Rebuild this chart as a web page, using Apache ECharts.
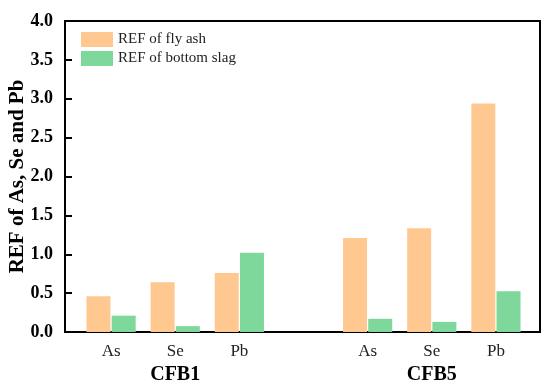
<!DOCTYPE html>
<html>
<head>
<meta charset="utf-8">
<script src="https://cdn.jsdelivr.net/npm/echarts@6/dist/echarts.min.js"></script>
<style>html,body{margin:0;padding:0;background:#fff}#c{width:550px;height:390px}</style>
</head>
<body>
<div id="c"></div>
<script>
const categories = ["As", "Se", "Pb", "", "As", "Se", "Pb"];
const flyAsh = [0.46, 0.64, 0.76, null, 1.21, 1.335, 2.94];
const bottomSlag = [0.21, 0.075, 1.02, null, 0.17, 0.13, 0.525];
const groupNames = ["CFB1", "CFB5"];
const groupLabelIndex = [1, 5];
const seriesNames = ["REF of fly ash", "REF of bottom slag"];
const yMin = 0, yMax = 4, yStep = 0.5;

const font = "Liberation Serif";
const chart = echarts.init(document.getElementById('c'));
chart.setOption({
  animation: false,
  textStyle: { fontFamily: font },
  grid: [
    { left: 65, right: 10, top: 21, bottom: 58, show: true, borderColor: '#000', borderWidth: 2,
      outerBoundsMode: 'none', containLabel: false },
    { left: 79, right: 22, top: 21, bottom: 58, show: false, outerBoundsMode: 'none', containLabel: false },
    // thin strip along the left axis: its split lines are the inward tick marks
    { left: 65, width: 7, top: 21, bottom: 58, show: false, outerBoundsMode: 'none', containLabel: false }
  ],
  legend: {
    orient: 'vertical', left: 76, top: 27, itemWidth: 32, itemHeight: 15, itemGap: 4,
    icon: 'rect',
    textStyle: { fontFamily: font, fontSize: 15, color: '#222' },
    data: seriesNames
  },
  xAxis: [
    { gridIndex: 0, type: 'value', min: 0, max: 1, show: false },
    {
      gridIndex: 1, type: 'category', data: categories,
      axisLine: { show: false }, axisTick: { show: false },
      axisLabel: {
        interval: 0, margin: 10, fontFamily: font, fontSize: 17, color: '#222', lineHeight: 20,
        formatter: function (v, i) {
          const g = groupLabelIndex.indexOf(i);
          return g >= 0 ? v + '\n{g|' + groupNames[g] + '}' : v;
        },
        rich: { g: { fontFamily: font, fontSize: 20, fontWeight: 'bold', color: '#000', lineHeight: 26 } }
      }
    },
    { gridIndex: 2, type: 'value', min: 0, max: 1, show: false }
  ],
  yAxis: [
    {
      gridIndex: 0, type: 'value', min: yMin, max: yMax, interval: yStep,
      name: 'REF of As, Se and Pb', nameLocation: 'middle', nameGap: 37, nameMoveOverlap: false,
      nameTextStyle: { fontFamily: font, fontSize: 21, fontWeight: 'bold', color: '#000' },
      axisLine: { show: true, lineStyle: { color: '#000', width: 2 } },
      axisTick: { show: false },
      splitLine: { show: false },
      axisLabel: { margin: 12, fontFamily: font, fontSize: 18, fontWeight: 'bold', color: '#000',
        formatter: v => v.toFixed(1) }
    },
    { gridIndex: 1, type: 'value', min: yMin, max: yMax, show: false },
    { gridIndex: 2, type: 'value', min: yMin, max: yMax, interval: yStep,
      axisLine: { show: false }, axisTick: { show: false }, axisLabel: { show: false },
      splitLine: { show: true, lineStyle: { color: '#000', width: 2 } } }
  ],
  series: [
    { name: seriesNames[0], type: 'bar', xAxisIndex: 1, yAxisIndex: 1, data: flyAsh,
      barWidth: 24, barGap: '5%', itemStyle: { color: '#FFC891' } },
    { name: seriesNames[1], type: 'bar', xAxisIndex: 1, yAxisIndex: 1, data: bottomSlag,
      barWidth: 24, barGap: '5%', itemStyle: { color: '#7ED79B' } }
  ]
});
</script>
</body>
</html>
